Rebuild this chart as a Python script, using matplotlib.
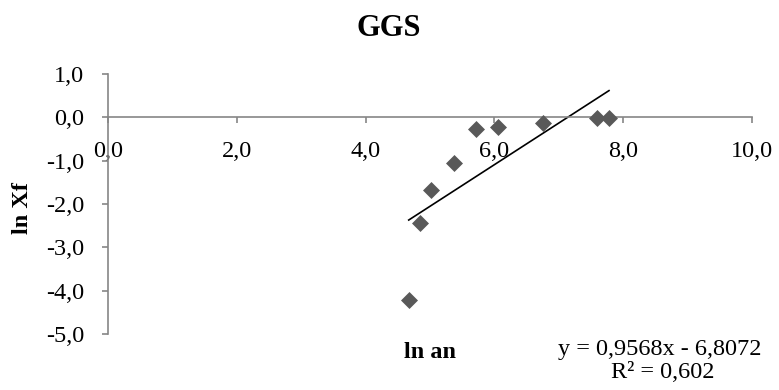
import matplotlib
matplotlib.use("Agg")
import matplotlib.pyplot as plt
from matplotlib.ticker import FuncFormatter, MultipleLocator
import numpy as np

# ln an / ln Xf values
ln_an = [4.67, 4.84, 5.02, 5.37, 5.71, 6.06, 6.76, 7.60, 7.78]
ln_xf = [-4.21, -2.45, -1.67, -1.05, -0.26, -0.22, -0.12, -0.02, -0.02]
eq_text = "y = 0,9568x - 6,8072"
r2_text = "R² = 0,602"

plt.rcParams['font.family'] = ['Liberation Serif', 'DejaVu Serif']
axis_col = '#868686'
mark_col = '#595959'
fs = 17.5

fig = plt.figure(figsize=(7.79, 3.9), dpi=100)
ax = fig.add_axes([0.1386, 0.1436, 0.8267, 0.6667])

ax.scatter(ln_an, ln_xf, marker='D', s=75, color=mark_col, zorder=3, linewidths=0)

# linear trendline over the data range
k, c = np.polyfit(ln_an, ln_xf, 1)
xs = np.array([min(ln_an), max(ln_an)])
ax.plot(xs, k * xs + c, color='black', lw=1.2, zorder=2)

ax.set_xlim(0, 10)
ax.set_ylim(-5, 1)
ax.xaxis.set_major_locator(MultipleLocator(2))
ax.yaxis.set_major_locator(MultipleLocator(1))
fmt = FuncFormatter(lambda v, p: f"{v:.1f}".replace('.', ','))
ax.xaxis.set_major_formatter(fmt)
ax.yaxis.set_major_formatter(fmt)

ax.spines['top'].set_visible(False)
ax.spines['right'].set_visible(False)
ax.spines['bottom'].set_position(('data', 0))
for sp in ('left', 'bottom'):
    ax.spines[sp].set_color(axis_col)
    ax.spines[sp].set_linewidth(1.2)
ax.tick_params(axis='both', direction='out', length=4.3, width=1.2, color=axis_col,
               labelsize=fs, labelcolor='black')
ax.tick_params(axis='x', pad=13)
ax.tick_params(axis='y', pad=13)

fig.text(389 / 779, 1 - 28 / 390, 'GGS', fontsize=22, fontweight='bold',
         ha='center', va='center')
fig.text(22 / 779, 1 - 208 / 390, 'ln Xf', fontsize=fs, fontweight='bold',
         ha='center', va='center', rotation=90)
fig.text(430 / 779, 1 - 352 / 390, 'ln an', fontsize=fs, fontweight='bold',
         ha='center', va='center')
fig.text(660 / 779, 1 - 349 / 390, eq_text, fontsize=fs, ha='center', va='center')
fig.text(663 / 779, 1 - 372 / 390, r2_text, fontsize=fs, ha='center', va='center')

fig.savefig('out.png', dpi=100)
